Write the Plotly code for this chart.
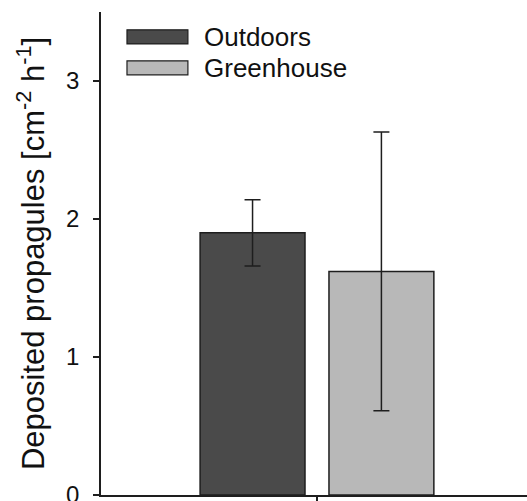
import plotly.graph_objects as go

# Mean deposition rate and its error, one bar per site
sites = ["Outdoors", "Greenhouse"]
means = [1.90, 1.62]
errors = [0.24, 1.01]
fills = ["#4a4a4a", "#b8b8b8"]
category = ["all"]

y_ticks = [0, 1, 2, 3]
y_title = "Deposited propagules [cm<sup>-2</sup> h<sup>-1</sup>]"

FONT = "Liberation Sans, Arial, sans-serif"
INK = "#1e1e1e"

fig = go.Figure()
for name, m, e, c in zip(sites, means, errors, fills):
    fig.add_trace(go.Bar(
        name=name,
        x=category,
        y=[m],
        marker=dict(color=c, line=dict(color=INK, width=1.5)),
        error_y=dict(type="data", array=[e], visible=True,
                     color=INK, thickness=1.5, width=8),
        showlegend=False,
    ))

# Legend drawn as wide outlined swatches with labels
legend_rows = [(0.934, 0.963), (0.870, 0.899)]
for (y0, y1), name, c in zip(legend_rows, sites, fills):
    fig.add_shape(type="rect", xref="paper", yref="paper",
                  x0=0.061, x1=0.204, y0=y0, y1=y1,
                  fillcolor=c, line=dict(color=INK, width=1.2))
    fig.add_annotation(xref="paper", yref="paper", x=0.236, y=(y0 + y1) / 2,
                       text=name, showarrow=False, xanchor="left",
                       yanchor="middle", font=dict(size=26, color="#111"))

fig.update_layout(
    width=527, height=501,
    margin=dict(l=101, r=0, t=12, b=6),
    paper_bgcolor="white", plot_bgcolor="white",
    font=dict(family=FONT, color="#111"),
    barmode="group", bargap=0.395, bargroupgap=0.186,
    showlegend=False,
)
fig.update_xaxes(
    range=[-0.507, 0.493], showticklabels=False, automargin=False,
    showline=True, linecolor=INK, linewidth=1.5,
    ticks="outside", ticklen=6, tickwidth=1.5, tickcolor=INK,
    showgrid=False, zeroline=False,
)
fig.update_yaxes(
    range=[0, 3.5], tickvals=y_ticks, automargin=False,
    showline=True, linecolor=INK, linewidth=1.5,
    ticks="outside", ticklen=6, tickwidth=1.5, tickcolor=INK,
    ticklabelstandoff=9, ticklabeloverflow="allow",
    tickfont=dict(size=24, color="#111"),
    showgrid=False, zeroline=False,
    title=dict(text=y_title, font=dict(size=31, color="#111"), standoff=12),
)

fig.write_html("out.html")
